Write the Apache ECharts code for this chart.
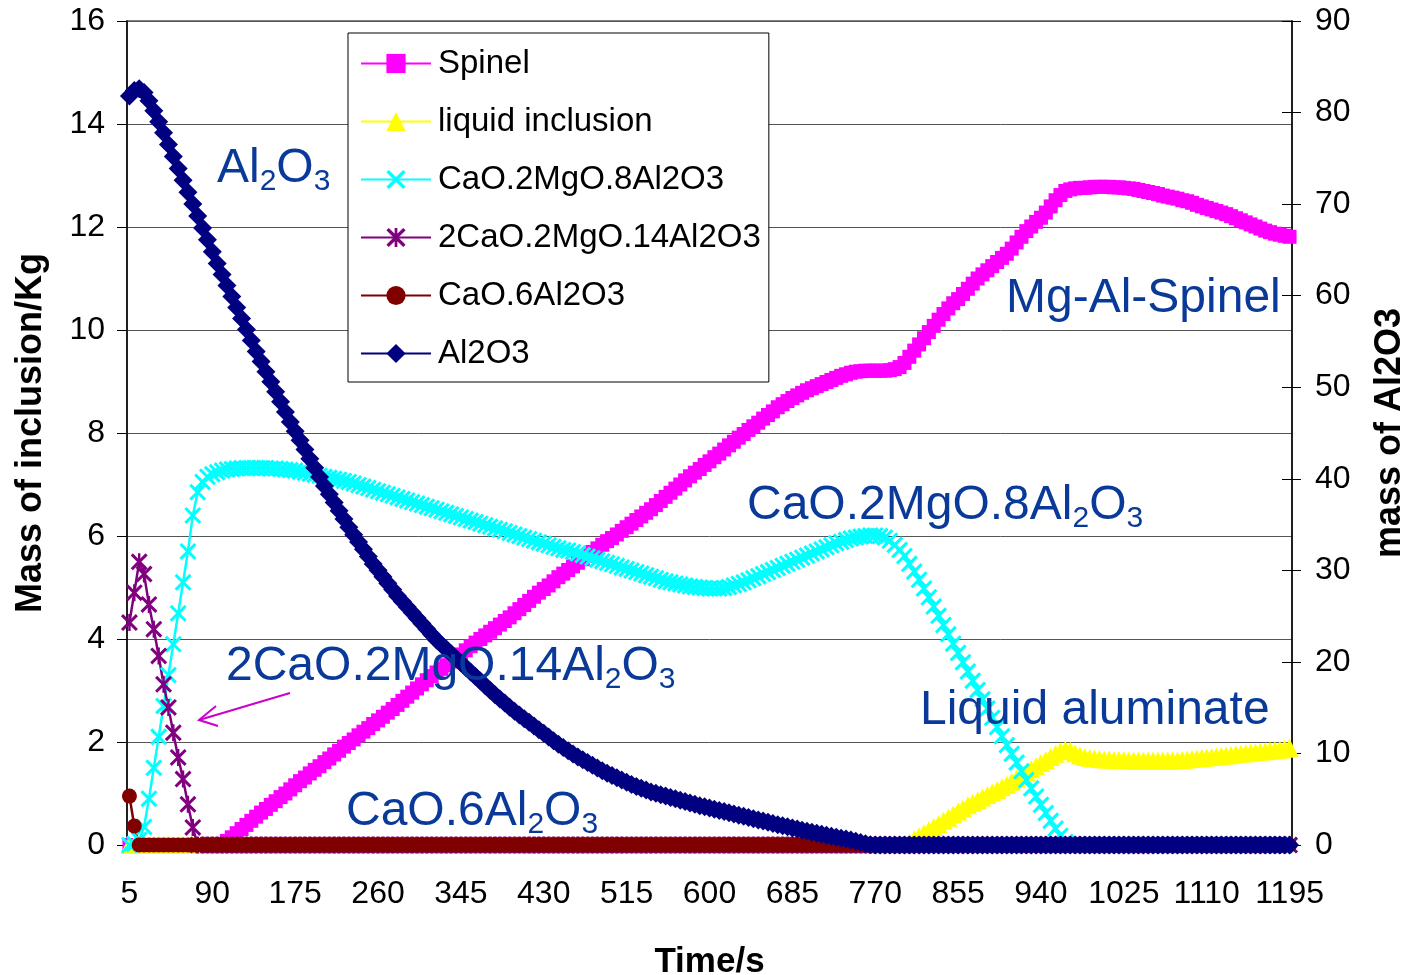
<!DOCTYPE html>
<html>
<head>
<meta charset="utf-8">
<script src="https://cdn.jsdelivr.net/npm/echarts@6/dist/echarts.min.js"></script>
<style>
html,body{margin:0;padding:0;background:#fff;width:100%;height:100%;overflow:hidden;}
#chart{width:1404px;height:975px;}
</style>
</head>
<body>
<div id="chart"></div>
<script>
// Time categories: 5 s .. 1195 s every 5 s
const timeStart = 5, timeStep = 5, timeEnd = 1195;
const times = [];
for (let t = timeStart; t <= timeEnd; t += timeStep) times.push(String(t));

const seriesNames = ['Spinel', 'liquid inclusion', 'CaO.2MgO.8Al2O3', '2CaO.2MgO.14Al2O3', 'CaO.6Al2O3', 'Al2O3'];

const spinel = [
0,0,0,0,0,0,0,0,0,0,
0,0,0,0,0,0,0,0,0,0.02,
0.08,0.15,0.23,0.31,0.39,0.47,0.55,0.63,0.70,0.78,
0.85,0.93,1.00,1.08,1.16,1.24,1.31,1.39,1.46,1.53,
1.61,1.68,1.76,1.83,1.91,1.98,2.05,2.13,2.20,2.27,
2.35,2.42,2.49,2.57,2.64,2.72,2.80,2.88,2.96,3.04,
3.12,3.20,3.28,3.35,3.42,3.49,3.56,3.63,3.70,3.78,
3.86,3.93,4.00,4.07,4.14,4.21,4.28,4.35,4.42,4.50,
4.58,4.66,4.74,4.82,4.90,4.97,5.04,5.12,5.20,5.27,
5.34,5.41,5.48,5.55,5.62,5.69,5.76,5.83,5.90,5.96,
6.03,6.10,6.17,6.24,6.31,6.38,6.45,6.52,6.60,6.68,
6.76,6.84,6.92,7.00,7.08,7.16,7.23,7.30,7.38,7.45,
7.53,7.60,7.68,7.76,7.83,7.91,7.98,8.06,8.13,8.20,
8.28,8.35,8.42,8.50,8.56,8.62,8.68,8.73,8.78,8.83,
8.87,8.91,8.95,8.99,9.03,9.07,9.11,9.14,9.17,9.19,
9.20,9.21,9.21,9.21,9.21,9.21,9.22,9.24,9.28,9.36,
9.48,9.60,9.72,9.84,9.96,10.08,10.20,10.31,10.42,10.52,
10.60,10.70,10.80,10.90,11.00,11.08,11.16,11.24,11.32,11.40,
11.48,11.58,11.70,11.81,11.92,12.01,12.10,12.18,12.28,12.40,
12.52,12.62,12.70,12.73,12.75,12.76,12.76,12.77,12.78,12.78,
12.78,12.78,12.77,12.77,12.76,12.75,12.74,12.72,12.70,12.68,
12.66,12.64,12.61,12.59,12.57,12.55,12.52,12.50,12.47,12.43,
12.40,12.37,12.34,12.31,12.28,12.25,12.21,12.17,12.13,12.09,
12.05,12.01,11.97,11.93,11.90,11.87,11.85,11.83,11.81
];

const liquidInclusion = [
0,0,0,0,0,0,0,0,0,0,
0,0,0,0,0,0,0,0,0,0,
0,0,0,0,0,0,0,0,0,0,
0,0,0,0,0,0,0,0,0,0,
0,0,0,0,0,0,0,0,0,0,
0,0,0,0,0,0,0,0,0,0,
0,0,0,0,0,0,0,0,0,0,
0,0,0,0,0,0,0,0,0,0,
0,0,0,0,0,0,0,0,0,0,
0,0,0,0,0,0,0,0,0,0,
0,0,0,0,0,0,0,0,0,0,
0,0,0,0,0,0,0,0,0,0,
0,0,0,0,0,0,0,0,0,0,
0,0,0,0,0,0,0,0,0,0,
0,0,0,0,0,0,0,0,0,0,
0,0,0,0,0,0,0,0,0,0,
0.05,0.11,0.17,0.23,0.29,0.35,0.41,0.47,0.53,0.59,
0.65,0.71,0.77,0.82,0.87,0.92,0.97,1.02,1.07,1.12,
1.17,1.23,1.29,1.35,1.41,1.47,1.53,1.59,1.65,1.71,
1.77,1.82,1.85,1.83,1.78,1.74,1.71,1.69,1.68,1.67,
1.66,1.66,1.65,1.65,1.65,1.64,1.64,1.64,1.64,1.64,
1.64,1.64,1.64,1.64,1.64,1.64,1.65,1.66,1.67,1.68,
1.69,1.70,1.71,1.72,1.73,1.74,1.75,1.76,1.77,1.78,
1.79,1.80,1.81,1.82,1.83,1.84,1.85,1.87,1.89
];

const cao2mgo8 = [
0,0.02,0.1,0.35,0.9,1.5,2.1,2.7,3.3,3.9,
4.5,5.1,5.7,6.4,6.85,7.05,7.15,7.2,7.24,7.27,
7.29,7.3,7.31,7.32,7.32,7.32,7.32,7.32,7.32,7.31,
7.31,7.3,7.29,7.28,7.27,7.25,7.23,7.21,7.19,7.17,
7.15,7.13,7.11,7.09,7.07,7.05,7.02,6.99,6.96,6.93,
6.90,6.87,6.84,6.81,6.78,6.75,6.72,6.69,6.66,6.63,
6.60,6.57,6.54,6.51,6.48,6.45,6.42,6.39,6.36,6.33,
6.30,6.27,6.24,6.21,6.18,6.15,6.12,6.09,6.06,6.03,
6.00,5.97,5.94,5.91,5.88,5.85,5.82,5.79,5.76,5.73,
5.72,5.69,5.66,5.63,5.60,5.57,5.54,5.51,5.48,5.45,
5.42,5.39,5.36,5.33,5.30,5.27,5.24,5.21,5.18,5.15,
5.12,5.10,5.08,5.06,5.04,5.02,5.01,5.00,4.99,4.98,
4.98,4.98,4.99,5.01,5.04,5.07,5.10,5.14,5.18,5.22,
5.26,5.30,5.34,5.38,5.42,5.46,5.50,5.54,5.58,5.62,
5.66,5.70,5.74,5.78,5.82,5.86,5.89,5.92,5.95,5.97,
5.99,6.00,6.01,6.01,6.00,5.97,5.91,5.83,5.73,5.61,
5.46,5.31,5.15,4.98,4.81,4.63,4.45,4.27,4.09,3.91,
3.73,3.55,3.37,3.19,3.01,2.83,2.65,2.47,2.29,2.11,
1.94,1.77,1.60,1.43,1.26,1.10,0.94,0.78,0.62,0.47,
0.32,0.18,0.06,0,0,0,0,0,0,0,
0,0,0,0,0,0,0,0,0,0,
0,0,0,0,0,0,0,0,0,0,
0,0,0,0,0,0,0,0,0,0,
0,0,0,0,0,0,0,0,0
];

const cao2mgo14 = [
4.32,4.9,5.5,5.26,4.67,4.19,3.67,3.12,2.67,2.18,
1.70,1.28,0.79,0.34,0,0,0,0,0,0,
0,0,0,0,0,0,0,0,0,0,
0,0,0,0,0,0,0,0,0,0,
0,0,0,0,0,0,0,0,0,0,
0,0,0,0,0,0,0,0,0,0,
0,0,0,0,0,0,0,0,0,0,
0,0,0,0,0,0,0,0,0,0,
0,0,0,0,0,0,0,0,0,0,
0,0,0,0,0,0,0,0,0,0,
0,0,0,0,0,0,0,0,0,0,
0,0,0,0,0,0,0,0,0,0,
0,0,0,0,0,0,0,0,0,0,
0,0,0,0,0,0,0,0,0,0,
0,0,0,0,0,0,0,0,0,0,
0,0,0,0,0,0,0,0,0,0,
0,0,0,0,0,0,0,0,0,0,
0,0,0,0,0,0,0,0,0,0,
0,0,0,0,0,0,0,0,0,0,
0,0,0,0,0,0,0,0,0,0,
0,0,0,0,0,0,0,0,0,0,
0,0,0,0,0,0,0,0,0,0,
0,0,0,0,0,0,0,0,0,0,
0,0,0,0,0,0,0,0,0
];

const cao6 = [
0.95,0.37,0,0,0,0,0,0,0,0,
0,0,0,0,0,0,0,0,0,0,
0,0,0,0,0,0,0,0,0,0,
0,0,0,0,0,0,0,0,0,0,
0,0,0,0,0,0,0,0,0,0,
0,0,0,0,0,0,0,0,0,0,
0,0,0,0,0,0,0,0,0,0,
0,0,0,0,0,0,0,0,0,0,
0,0,0,0,0,0,0,0,0,0,
0,0,0,0,0,0,0,0,0,0,
0,0,0,0,0,0,0,0,0,0,
0,0,0,0,0,0,0,0,0,0,
0,0,0,0,0,0,0,0,0,0,
0,0,0,0,0,0,0,0,0,0,
0,0,0,0,0,0,0,0,0,0,
0,0,0,0,0,0,0,0,0,0,
0,0,0,0,0,0,0,0,0,0,
0,0,0,0,0,0,0,0,0,0,
0,0,0,0,0,0,0,0,0,0,
0,0,0,0,0,0,0,0,0,0,
0,0,0,0,0,0,0,0,0,0,
0,0,0,0,0,0,0,0,0,0,
0,0,0,0,0,0,0,0,0,0,
0,0,0,0,0,0,0,0,0
];

// Al2O3 plotted on the right axis (mass of Al2O3)
const al2o3 = [
81.8,82.4,82.6,82.2,81.3,80.2,79.0,77.8,76.5,75.2,
73.9,72.6,71.3,70.0,68.7,67.4,66.1,64.8,63.5,62.3,
61.1,59.9,58.7,57.5,56.3,55.1,53.9,52.8,51.7,50.6,
49.5,48.4,47.3,46.2,45.2,44.2,43.2,42.2,41.2,40.2,
39.2,38.3,37.4,36.5,35.6,34.7,33.9,33.1,32.3,31.5,
30.7,30.0,29.3,28.6,27.9,27.2,26.6,26.0,25.4,24.8,
24.2,23.6,23.0,22.4,21.9,21.4,20.9,20.4,19.9,19.4,
18.9,18.4,17.9,17.4,16.9,16.4,15.95,15.5,15.05,14.6,
14.2,13.8,13.4,13.0,12.6,12.2,11.8,11.4,11.0,10.65,
10.3,9.95,9.6,9.3,9.0,8.7,8.4,8.1,7.85,7.6,
7.35,7.1,6.85,6.6,6.4,6.2,6.0,5.8,5.65,5.5,
5.35,5.2,5.05,4.9,4.75,4.6,4.45,4.3,4.17,4.04,
3.91,3.78,3.65,3.52,3.39,3.26,3.13,3.0,2.87,2.74,
2.61,2.48,2.35,2.22,2.1,1.98,1.86,1.74,1.62,1.5,
1.39,1.28,1.17,1.06,0.95,0.85,0.75,0.65,0.55,0.42,
0.28,0.14,0.04,0,0,0,0,0,0,0,
0,0,0,0,0,0,0,0,0,0,
0,0,0,0,0,0,0,0,0,0,
0,0,0,0,0,0,0,0,0,0,
0,0,0,0,0,0,0,0,0,0,
0,0,0,0,0,0,0,0,0,0,
0,0,0,0,0,0,0,0,0,0,
0,0,0,0,0,0,0,0,0,0,
0,0,0,0,0,0,0,0,0
];

const leftTicks = {min: 0, max: 16, interval: 2};
const rightTicks = {min: 0, max: 90, interval: 10};

const FONT = '"Liberation Sans", Arial, sans-serif';
const ANN = '#0a3a99';

const xPath = 'path://M0,1.5L1.5,0L6,4.5L10.5,0L12,1.5L7.5,6L12,10.5L10.5,12L6,7.5L1.5,12L0,10.5L4.5,6Z';
const starPath = 'path://M0,1.5L1.5,0L6,4.5L10.5,0L12,1.5L7.5,6L12,10.5L10.5,12L6,7.5L1.5,12L0,10.5L4.5,6Z M5.15,0L6.85,0L6.85,12L5.15,12Z';

function mkSeries(name, data, color, symbol, size, yIdx) {
  return {
    name: name, type: 'line', data: data, yAxisIndex: yIdx,
    symbol: symbol, symbolSize: size, showSymbol: true, showAllSymbol: true,
    lineStyle: {color: color, width: 2.5},
    itemStyle: {color: color, borderWidth: 0},
    emphasis: {disabled: true},
    animation: false
  };
}

const chart = echarts.init(document.getElementById('chart'));

const richStyles = {
  n: {fontSize: 48, fontFamily: FONT, color: ANN, lineHeight: 56, verticalAlign: 'middle'},
  s: {fontSize: 30, fontFamily: FONT, color: ANN, lineHeight: 28, verticalAlign: 'bottom'}
};

function ann(x, y, text) {
  return {
    type: 'text', x: x, y: y, silent: true, z: 100,
    style: {text: text, rich: richStyles, fill: ANN, font: '48px ' + FONT, align: 'left', verticalAlign: 'middle'}
  };
}

chart.setOption({
  animation: false,
  backgroundColor: '#fff',
  textStyle: {fontFamily: FONT},
  grid: {left: 127, right: 112, top: 21, bottom: 130, show: true, borderColor: '#808080', borderWidth: 2,
         containLabel: false, outerBoundsMode: 'none'},
  legend: {
    data: seriesNames,
    orient: 'vertical', left: 348, top: 33,
    padding: [14, 8, 12, 12],
    itemWidth: 70, itemHeight: 24, itemGap: 25,
    backgroundColor: '#fff', borderColor: '#000', borderWidth: 1,
    textStyle: {fontSize: 33, color: '#000', fontFamily: FONT, lineHeight: 30, padding: [0, 0, 0, 2]},
    selectedMode: false
  },
  xAxis: {
    type: 'category', data: times, boundaryGap: true,
    axisLine: {lineStyle: {color: '#000', width: 1.5}},
    axisTick: {show: true, interval: 0, length: 4, lineStyle: {color: '#000', width: 1}},
    axisLabel: {interval: 16, fontSize: 32, color: '#000', fontFamily: FONT, margin: 33},
    splitLine: {show: false},
    name: 'Time/s', nameLocation: 'middle', nameGap: 100,
    nameTextStyle: {fontSize: 35, fontWeight: 'bold', color: '#000', fontFamily: FONT}
  },
  yAxis: [
    {
      type: 'value', position: 'left', min: leftTicks.min, max: leftTicks.max, interval: leftTicks.interval,
      axisLine: {show: true, lineStyle: {color: '#000', width: 1.5}},
      axisTick: {show: true, length: 10, lineStyle: {color: '#000'}},
      axisLabel: {fontSize: 32, color: '#000', fontFamily: FONT, margin: 22},
      splitLine: {show: true, lineStyle: {color: '#555', width: 1}},
      name: 'Mass of inclusion/Kg', nameLocation: 'middle', nameGap: 78, nameRotate: 90,
      nameTextStyle: {fontSize: 36, fontWeight: 'bold', color: '#000', fontFamily: FONT}
    },
    {
      type: 'value', position: 'right', min: rightTicks.min, max: rightTicks.max, interval: rightTicks.interval,
      axisLine: {show: true, lineStyle: {color: '#000', width: 1.5}},
      axisTick: {show: true, length: 9, lineStyle: {color: '#000'}},
      axisLabel: {fontSize: 32, color: '#000', fontFamily: FONT, margin: 23},
      splitLine: {show: false},
      name: 'mass of Al2O3', nameLocation: 'middle', nameGap: 80, nameRotate: 90,
      nameTextStyle: {fontSize: 36, fontWeight: 'bold', color: '#000', fontFamily: FONT}
    },
    {
      type: 'value', position: 'right', min: rightTicks.min, max: rightTicks.max, interval: rightTicks.interval,
      axisLine: {show: false},
      axisTick: {show: true, inside: true, length: 10, lineStyle: {color: '#000'}},
      axisLabel: {show: false},
      splitLine: {show: false}
    }
  ],
  series: [
    mkSeries(seriesNames[0], spinel, '#FF00FF', 'rect', 14, 0),
    mkSeries(seriesNames[1], liquidInclusion, '#FFFF00', 'triangle', 18, 0),
    mkSeries(seriesNames[2], cao2mgo8, '#00FFFF', xPath, 17, 0),
    mkSeries(seriesNames[3], cao2mgo14, '#800080', starPath, 17, 0),
    mkSeries(seriesNames[4], cao6, '#800000', 'circle', 15, 0),
    mkSeries(seriesNames[5], al2o3, '#000080', 'diamond', 19, 1)
  ],
  graphic: [
    ann(217, 169, '{n|Al}{s|2}{n|O}{s|3}'),
    ann(1006, 299, '{n|Mg-Al-Spinel}'),
    ann(747, 506, '{n|CaO.2MgO.8Al}{s|2}{n|O}{s|3}'),
    ann(226, 667, '{n|2CaO.2MgO.14Al}{s|2}{n|O}{s|3}'),
    ann(920, 711, '{n|Liquid aluminate}'),
    ann(346, 812, '{n|CaO.6Al}{s|2}{n|O}{s|3}'),
    {type: 'polyline', silent: true, z: 100, shape: {points: [[290, 693], [199, 720]]}, style: {stroke: '#CC00CC', lineWidth: 2, fill: null}},
    {type: 'polyline', silent: true, z: 100, shape: {points: [[216, 706], [199, 720], [218, 726]]}, style: {stroke: '#CC00CC', lineWidth: 2, fill: null}}
  ]
});
</script>
</body>
</html>
